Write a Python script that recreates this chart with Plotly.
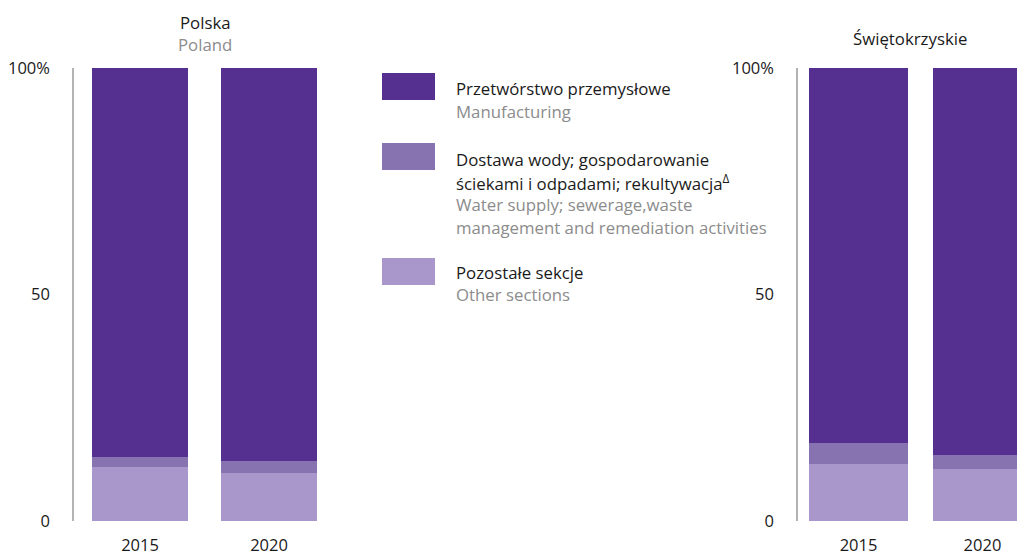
import plotly.graph_objects as go

W, H = 1025, 552
OFF = 8  # page body margin offset

years = ["2015", "2020"]
poland_manufacturing = [85.9, 86.8]
poland_water = [2.2, 2.6]
poland_other = [11.9, 10.6]
swiet_manufacturing = [82.8, 85.4]
swiet_water = [4.6, 3.1]
swiet_other = [12.6, 11.5]

series_names = ["Przetwórstwo przemysłowe", "Dostawa wody; gospodarowanie ściekami i odpadami; rekultywacja",
                "Pozostałe sekcje"]
colors = ["#553090", "#8873b1", "#a997cb"]
tick_vals = [0, 50, 100]
tick_text = ["0", "50", "100%"]

FONT = "Open Sans"
BLACK = "#1a1a1a"
GREY = "#8c8c8c"
FS = 16.8


def px(x):
    return (x - OFF) / W


def py(y):
    return 1 - (y - OFF) / H


fig = go.Figure()


def add_stack(xaxis, yaxis, other, water, manu, width):
    for vals, name, col in zip([other, water, manu], series_names[::-1], colors[::-1]):
        fig.add_trace(go.Bar(x=years, y=vals, name=name, marker=dict(color=col, line=dict(width=0)),
                             width=width, xaxis=xaxis, yaxis=yaxis, showlegend=False))


add_stack("x", "y", poland_other, poland_water, poland_manufacturing, 0.744)
add_stack("x2", "y2", swiet_other, swiet_water, swiet_manufacturing, 0.80)

ydom = [py(521), py(68)]
yax = dict(range=[0, 100], tickvals=tick_vals, ticktext=tick_text, showgrid=False, zeroline=False,
           showline=True, linecolor="#b3b3b3", linewidth=1.5, ticks="", ticklabelstandoff=19,
           tickfont=dict(family=FONT, size=16.5, color=BLACK), domain=ydom, fixedrange=True,
           automargin=False)
xax = dict(showgrid=False, zeroline=False, showline=False, ticks="", ticklabelstandoff=12,
           tickfont=dict(family=FONT, size=16.5, color=BLACK), type="category", automargin=False)

fig.update_layout(
    width=W, height=H, margin=dict(l=0, r=0, t=0, b=0, pad=0), template="none",
    paper_bgcolor="white", plot_bgcolor="white", barmode="stack",
    xaxis=dict(xax, domain=[px(74), px(333.5)], range=[-0.512, 1.5]),
    yaxis=dict(yax, anchor="x"),
    xaxis2=dict(xax, domain=[px(798), px(1025)], range=[-0.488, 1.343], anchor="y2"),
    yaxis2=dict(yax, anchor="x2"),
)

anns = []


def txt(x, y, s, color=BLACK, size=FS, xanchor="left"):
    anns.append(dict(x=px(x), y=py(y), xref="paper", yref="paper", text=s, showarrow=False,
                     xanchor=xanchor, yanchor="middle", font=dict(family=FONT, size=size, color=color)))


txt(205, 22, "Polska", xanchor="center")
txt(205, 45, "Poland", GREY, xanchor="center")
txt(910, 38, "Świętokrzyskie", xanchor="center")

legend_rows = [
    (73, [("Przetwórstwo przemysłowe", BLACK, 89), ("Manufacturing", GREY, 112)]),
    (143, [("Dostawa wody; gospodarowanie", BLACK, 159),
           ("ściekami i odpadami; rekultywacja<sup>Δ</sup>", BLACK, 182),
           ("Water supply; sewerage,waste", GREY, 204),
           ("management and remediation activities", GREY, 227)]),
    (258, [("Pozostałe sekcje", BLACK, 272), ("Other sections", GREY, 294)]),
]
shapes = []
for (top, lines), col in zip(legend_rows, colors):
    shapes.append(dict(type="rect", xref="paper", yref="paper", x0=px(382), x1=px(435),
                       y0=py(top), y1=py(top + 27), fillcolor=col, line=dict(width=0)))
    for s, c, y in lines:
        txt(454, y, s, c)

fig.update_layout(annotations=anns, shapes=shapes)
fig.write_html("out.html")
